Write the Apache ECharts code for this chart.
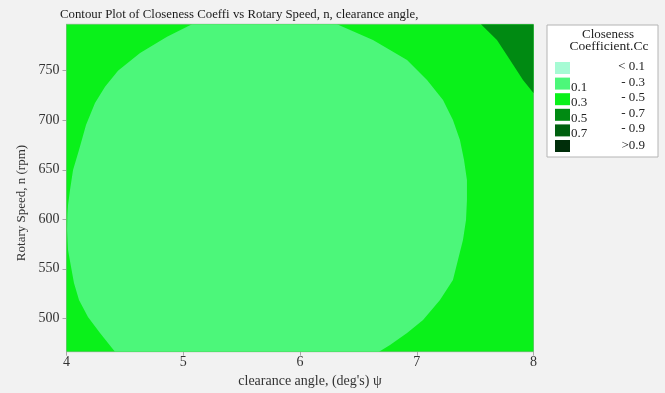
<!DOCTYPE html>
<html>
<head>
<meta charset="utf-8">
<script src="https://cdn.jsdelivr.net/npm/echarts@6/dist/echarts.min.js"></script>
<style>
  html, body { margin: 0; padding: 0; background: #f2f2f2; }
  #chart { width: 665px; height: 393px; }
</style>
</head>
<body>
<div id="chart"></div>
<script>
// Axis ranges and tick values
const xRange = [4, 8];
const yRange = [466.3, 796.9];
const xTicks = [4, 5, 6, 7, 8];
const yTicks = [500, 550, 600, 650, 700, 750];

// Contour level bands (Closeness Coefficient.Cc)
const levelColors = ['#a6fbd4', '#4cf77a', '#0af11a', '#008a12', '#00600f', '#002e0a'];
const levelLow = ['', '0.1', '0.3', '0.5', '0.7', ''];
const levelHigh = ['< 0.1', '- 0.3', '- 0.5', '- 0.7', '- 0.9', '>0.9'];

// Band 0.3 - 0.5 : covers the whole design region
const band03 = [[4, 466.3], [8, 466.3], [8, 796.9], [4, 796.9]];

// Band 0.1 - 0.3 : boundary of the central region (clearance angle, speed)
const band01 = [
  [5.075, 796.9], [6.317, 796.9], [6.625, 781.0], [6.917, 760.8], [7.088, 740.6],
  [7.225, 720.4], [7.310, 700.2], [7.370, 680.0], [7.405, 659.8], [7.430, 639.6],
  [7.430, 619.4], [7.422, 599.2], [7.396, 579.1], [7.353, 558.9], [7.310, 538.7],
  [7.199, 518.5], [7.054, 498.3], [6.917, 485.2], [6.771, 473.1], [6.677, 466.3],
  [4.415, 466.3], [4.287, 485.2], [4.184, 501.3], [4.107, 518.5], [4.064, 535.6],
  [4.039, 551.8], [4.013, 568.9], [4.005, 589.1], [4.008, 604.3], [4.013, 614.4],
  [4.030, 629.6], [4.056, 649.7], [4.107, 670.0], [4.167, 695.2], [4.244, 717.4],
  [4.330, 733.8], [4.441, 750.0], [4.630, 767.9], [4.861, 784.3], [5.032, 794.4]
];

// Band 0.5 - 0.7 : top-right corner
const band05 = [
  [7.550, 796.9], [8, 796.9], [8, 727.5], [7.910, 740.6], [7.799, 760.8], [7.687, 781.0]
];

const serif = '"Liberation Serif", "Times New Roman", serif';

function regionSeries(points, color) {
  return {
    type: 'custom',
    coordinateSystem: 'cartesian2d',
    silent: true,
    clip: true,
    data: points,
    encode: { x: 0, y: 1 },
    renderItem: function (params, api) {
      if (params.dataIndex !== 0) return;
      const pts = points.map(p => api.coord(p));
      return {
        type: 'polygon',
        shape: { points: pts },
        style: { fill: color, stroke: null }
      };
    }
  };
}

// Legend box and axis titles drawn as graphic elements
const legendLeft = 547, legendTop = 25;
const swatchTops = [62, 77.6, 93.2, 108.8, 124.4, 140];
const graphics = [
  { type: 'text', x: 22, y: 203, rotation: Math.PI / 2,
    style: { text: 'Rotary Speed, n (rpm)', font: '13px ' + serif, fill: '#333',
      textAlign: 'center', textVerticalAlign: 'middle' } },
  { type: 'text', x: 310, y: 381,
    style: { text: 'clearance angle, (deg\'s) \u03c8', font: '14px ' + serif, fill: '#333',
      textAlign: 'center', textVerticalAlign: 'middle' } },
  { type: 'rect', shape: { x: legendLeft, y: legendTop, width: 111, height: 132 },
    style: { fill: '#ffffff', stroke: '#b4b4b4', lineWidth: 1 } },
  { type: 'text', x: 608, y: 35, style: { text: 'Closeness', font: '13px ' + serif, fill: '#222',
    textAlign: 'center', textVerticalAlign: 'middle' } },
  { type: 'text', x: 609, y: 46, style: { text: 'Coefficient.Cc', font: '13.5px ' + serif, fill: '#222',
    textAlign: 'center', textVerticalAlign: 'middle' } }
];
levelColors.forEach((c, i) => {
  const top = swatchTops[i];
  graphics.push({ type: 'rect', shape: { x: 555, y: top, width: 15, height: 12 }, style: { fill: c } });
  if (levelLow[i]) {
    graphics.push({ type: 'text', x: 571, y: top + 9.5, style: { text: levelLow[i], font: '13px ' + serif,
      fill: '#222', textAlign: 'left', textVerticalAlign: 'middle' } });
  }
  graphics.push({ type: 'text', x: 645, y: top + 4.5 + (i === 5 ? 1.5 : 0), style: { text: levelHigh[i],
    font: '13px ' + serif, fill: '#222', textAlign: 'right', textVerticalAlign: 'middle' } });
});

const chart = echarts.init(document.getElementById('chart'), null, { renderer: 'canvas' });
chart.setOption({
  backgroundColor: '#f2f2f2',
  animation: false,
  title: {
    text: 'Contour Plot of Closeness Coeffi vs Rotary Speed, n, clearance angle,',
    left: 55, top: 3,
    textStyle: { fontFamily: serif, fontSize: 12.8, fontWeight: 'normal', color: '#1a1a1a' }
  },
  grid: {
    left: 66.5, right: 131.5, top: 24.3, bottom: 41.3,
    show: true, borderColor: '#a8a8a8', borderWidth: 1, backgroundColor: 'transparent'
  },
  xAxis: {
    type: 'value', min: xRange[0], max: xRange[1], interval: 1,
    axisLine: { show: true, lineStyle: { color: '#a8a8a8' } },
    axisTick: { show: true, length: 4, lineStyle: { color: '#a8a8a8' }, customValues: xTicks },
    axisLabel: { fontFamily: serif, fontSize: 14, color: '#333', margin: 4, customValues: xTicks },
    splitLine: { show: false }
  },
  yAxis: {
    type: 'value', min: yRange[0], max: yRange[1],
    axisLine: { show: true, lineStyle: { color: '#a8a8a8' } },
    axisTick: { show: true, length: 4, lineStyle: { color: '#a8a8a8' }, customValues: yTicks },
    axisLabel: { fontFamily: serif, fontSize: 14, color: '#333', margin: 7, customValues: yTicks },
    splitLine: { show: false }
  },
  series: [
    regionSeries(band03, levelColors[2]),
    regionSeries(band01, levelColors[1]),
    regionSeries(band05, levelColors[3])
  ],
  graphic: graphics
});
</script>
</body>
</html>
